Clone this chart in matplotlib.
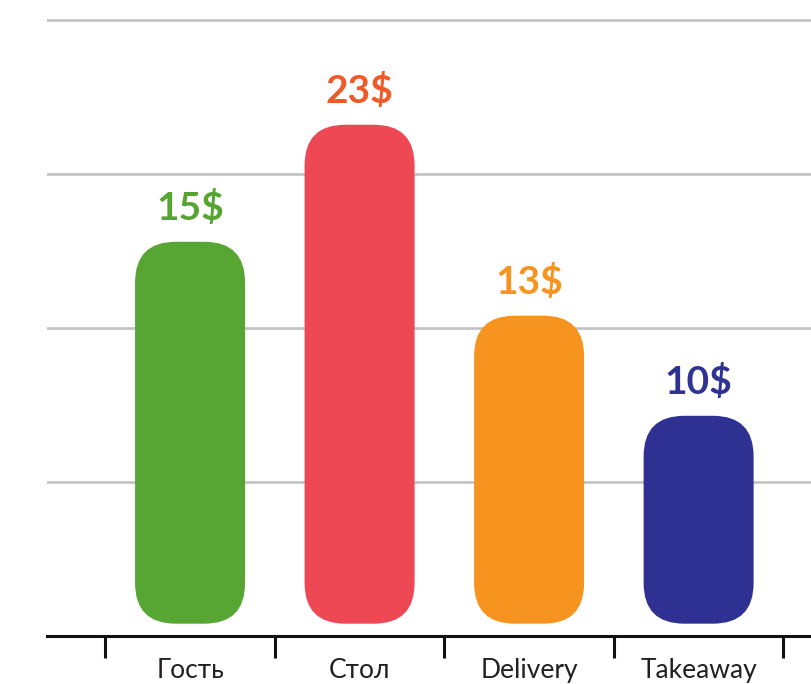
import matplotlib
matplotlib.use("Agg")
import matplotlib.pyplot as plt
from matplotlib.patches import FancyBboxPatch

# data
categories = ["Гость", "Стол", "Delivery", "Takeaway"]
prices = [15, 23, 13, 10]
bar_tops = [12.8, 16.6, 10.4, 7.15]   # bar height on the chart scale
bar_base = 0.4
grid_levels = [5, 10, 15, 20]

bar_colors = ["#57a532", "#ee4854", "#f6941f", "#2e3192"]
label_colors = ["#56a532", "#f05a28", "#f6941f", "#303393"]

W, H = 811, 684
fig = plt.figure(figsize=(W / 100, H / 100), dpi=100)
ax = fig.add_axes([47 / W, 48 / H, (W - 47) / W, (H - 48) / H])
ax.set_xlim(-0.844, 3.663)
ax.set_ylim(0, 20.65)

# horizontal grid
for g in grid_levels:
    ax.axhline(g, color="#c2c2c4", lw=1.9, zorder=0)

# rounded bars
bw = 110 / 169.5
aspect = 169.5 / 30.8
for i, (top, col) in enumerate(zip(bar_tops, bar_colors)):
    p = FancyBboxPatch((i - bw / 2, bar_base), bw, top - bar_base,
                       boxstyle="round,pad=0,rounding_size=0.24",
                       mutation_aspect=aspect, fc=col, ec="none", zorder=2)
    ax.add_patch(p)
    ax.annotate(f"{prices[i]}$", (i, top), xytext=(0, 24), textcoords="offset points",
                ha="center", va="center", fontsize=28, fontweight="bold",
                family="Lato", color=label_colors[i])

# axis and ticks
for s in ["top", "right", "left"]:
    ax.spines[s].set_visible(False)
ax.spines["bottom"].set_linewidth(2.2)
ax.spines["bottom"].set_color("#111111")
ax.set_yticks([])
ax.set_xticks([-0.5, 0.5, 1.5, 2.5, 3.5])
ax.set_xticklabels([])
ax.tick_params(axis="x", which="major", direction="out", length=16, width=2.2, color="#111111")
ax.set_xticks(range(len(categories)), minor=True)
ax.set_xticklabels(categories, minor=True, fontsize=19, family="Lato", color="#231f20")
ax.tick_params(axis="x", which="minor", length=0, pad=16)

fig.savefig("out.png", dpi=100)
